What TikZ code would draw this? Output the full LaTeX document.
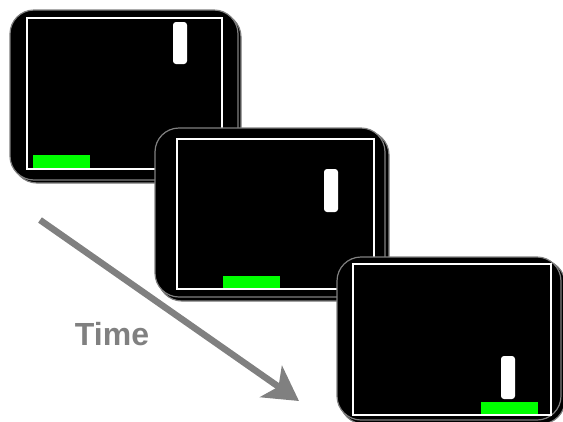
\documentclass[tikz,border=0pt]{standalone}
\usepackage{fontspec}
\setmainfont{Liberation Sans}
\usetikzlibrary{arrows.meta}
\definecolor{tgray}{HTML}{808080}
\definecolor{pgreen}{HTML}{00FF00}
\tikzset{
  scrbody/.style={fill=black, draw=tgray, line width=1.2pt, rounded corners=24pt},
  scrshadow/.style={fill=black, draw=tgray, line width=1.2pt, rounded corners=24pt},
  scrframe/.style={draw=white, line width=2pt},
  paddle/.style={fill=white, rounded corners=3pt},
  bar/.style={fill=pgreen},
  timearrow/.style={draw=tgray, line width=6.5pt, -{Stealth[length=34pt, width=38pt, inset=9pt]}},
  timelabel/.style={text=tgray, font=\fontsize{32}{38}\selectfont\bfseries, inner sep=0pt}
}
\begin{document}
\begin{tikzpicture}[x=1pt, y=-1pt]
\useasboundingbox (0,0) rectangle (563,421);
% screen 1
\path[scrshadow] (13,13) rectangle (241,183);
\path[scrbody] (10,10) rectangle (238,180);
\path[scrframe] (27,18) rectangle (222,169);
\path[paddle] (173,22) rectangle (187,64);
\path[bar] (33,155) rectangle (90,168);
% screen 2
\path[scrshadow] (158,131) rectangle (389,301);
\path[scrbody] (155,128) rectangle (385,297);
\path[scrframe] (177,139) rectangle (374,289);
\path[paddle] (324,169) rectangle (338,212);
\path[bar] (223,276) rectangle (280,288);
% screen 3
\path[scrshadow] (340,260) rectangle (565,424);
\path[scrbody] (337,257) rectangle (561,420);
\path[scrframe] (353,264) rectangle (551,415);
\path[paddle] (501,356) rectangle (515,399);
\path[bar] (481,402) rectangle (538,414);
% time arrow
\coordinate (tstart) at (40,220);
\coordinate (tend) at (299,401);
\draw[timearrow] (tstart) -- (tend);
\node[timelabel] (time) at (112,334) {Time};
\end{tikzpicture}
\end{document}
